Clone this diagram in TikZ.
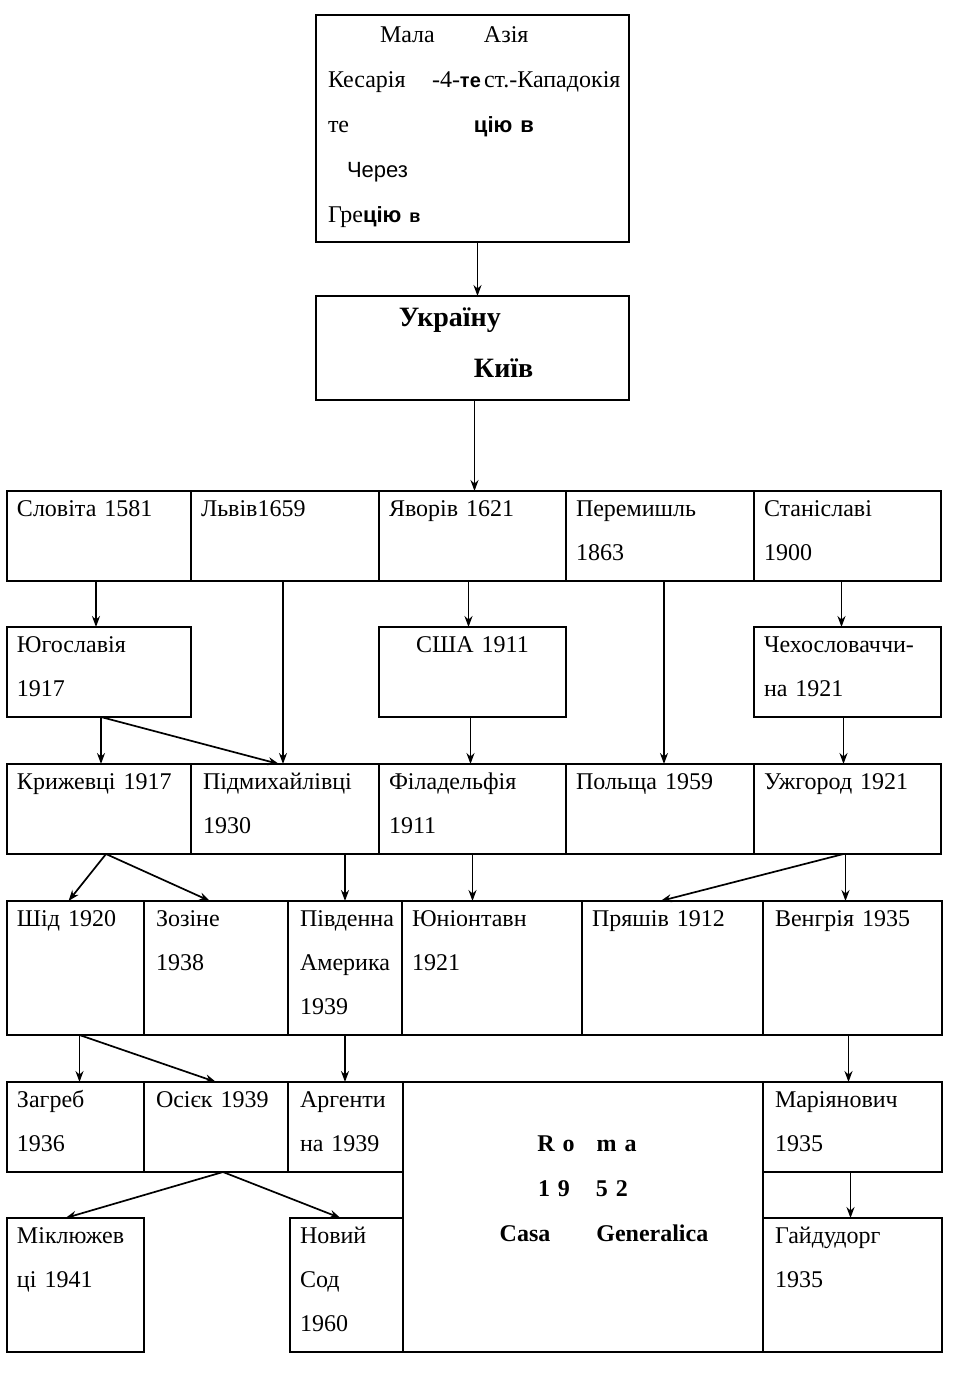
\documentclass[tikz,border=0pt]{standalone}
\usepackage{fontspec}
\setmainfont{Liberation Serif}
\setsansfont{Liberation Sans}
\usetikzlibrary{arrows.meta}
\tikzset{
	cell/.style={draw, line width=1.2pt, anchor=north west, inner xsep=5pt, inner ysep=0pt, outer sep=0pt, align=left, text height=12.5pt, text depth=32.5pt, font=\fontsize{12}{22}\selectfont},
	tall/.style={text depth=54.5pt},
	arr/.style={-{Stealth[length=5.5pt, width=4pt]}, line width=0.85pt},
}

\begin{document}
\begin{tikzpicture}[x=0.5pt, y=-0.5pt]
		%%%%% START %%%%%
		\useasboundingbox (0, 0) rectangle (976, 1373);
		
		\node[cell, inner xsep=6pt, text width=144.5pt, text height=13.5pt, text depth=100pt, font=\fontsize{12}{22.5}\selectfont] (asia) at (316, 15) {\hspace*{26pt}\makebox[52pt][l]{Мала}Азія\\ \mbox{\makebox[52pt][l]{Кесарія}\makebox[26pt][l]{-4-{\sffamily\bfseries\fontsize{10}{10}\selectfont те}}ст.-Кападокія}\\ \makebox[73pt][l]{те}{\sffamily\bfseries\fontsize{11}{11}\selectfont цію в}\\ \hspace*{9.5pt}{\sffamily\fontsize{11}{11}\selectfont Через}\\ Гре{\sffamily\bfseries\fontsize{11}{11}\selectfont цію} {\sffamily\bfseries\fontsize{9}{9}\selectfont в}};
		\node[cell, inner xsep=6pt, text width=144.5pt, text height=15pt, text depth=37pt, font=\fontsize{14}{25.5}\selectfont\bfseries] (ukraine) at (316, 296) {\hspace*{35.5pt}Україну\\ \hspace*{73pt}Київ};
		
		% row 1
		\node[cell, text width=82pt] (slovita) at (7, 491) {Словіта 1581};
		\node[cell, text width=84pt] (lviv) at (191, 491) {Львів1659};
		\node[cell, text width=83.5pt] (yavoriv) at (379, 491) {Яворів 1621};
		\node[cell, text width=84pt] (peremyshl) at (566, 491) {Перемишль\\ 1863};
		\node[cell, text width=83.5pt] (stanyslav) at (754, 491) {Станіславі\\ 1900};
		
		% row 2
		\node[cell, text width=82pt] (yugo) at (7, 627) {Югославія\\ 1917};
		\node[cell, text width=83.5pt, align=center] (usa) at (379, 627) {США 1911};
		\node[cell, text width=83.5pt] (czecho) at (754, 627) {Чехословаччи-\\ на 1921};
		
		% row 3
		\node[cell, text width=82pt] (kryzh) at (7, 764) {Крижевці 1917};
		\node[cell, text width=82pt, inner xsep=6pt] (pidmykh) at (191, 764) {Підмихайлівці\\ 1930};
		\node[cell, text width=83.5pt] (fila) at (379, 764) {Філадельфія\\ 1911};
		\node[cell, text width=84pt] (polsh) at (566, 764) {Польща 1959};
		\node[cell, text width=83.5pt] (uzh) at (754, 764) {Ужгород 1921};
		
		% row 4
		\node[cell, tall, text width=58.5pt] (shid) at (7, 901) {Шід 1920};
		\node[cell, tall, inner xsep=6pt, text width=60pt] (zozine) at (144, 901) {Зозіне\\ 1938};
		\node[cell, tall, inner xsep=6pt, text width=45pt] (pivd) at (288, 901) {Південна\\ Америка\\ 1939};
		\node[cell, tall, text width=80pt] (yunion) at (402, 901) {Юніонтавн\\ 1921};
		\node[cell, tall, text width=80.5pt] (pryash) at (582, 901) {Пряшів 1912};
		\node[cell, tall, inner xsep=6pt, text width=77.5pt] (venh) at (763, 901) {Венгрія 1935};
		
		% row 5
		\node[cell, text width=58.5pt] (zagreb) at (7, 1082) {Загреб\\ 1936};
		\node[cell, inner xsep=6pt, text width=60pt] (osiek) at (144, 1082) {Осієк 1939};
		\node[cell, inner xsep=6pt, text width=45.5pt] (argent) at (288, 1082) {Аргенти\\ на 1939};
		\node[cell, inner xsep=6pt, text width=77.5pt] (mariyan) at (763, 1082) {Маріянович\\ 1935};
		
		% row 6
		\node[cell, tall, text width=58.5pt] (miklyuzh) at (7, 1218) {Міклюжев\\ ці 1941};
		\node[cell, tall, text width=46.5pt] (novsod) at (290, 1218) {Новий\\ Сод\\ 1960};
		\node[cell, tall, inner xsep=6pt, text width=77.5pt] (haidud) at (763, 1218) {Гайдудорг\\ 1935};
		\node[cell, inner xsep=0pt, text width=180pt, text height=34.5pt, text depth=100.5pt, align=center, font=\fontsize{12}{22.5}\selectfont\bfseries] (roma) at (403, 1082) {\hspace*{4pt}R o\hspace{11pt}m a\\ 1 9\hspace{13pt}5 2\\ \hspace*{21pt}Casa\hspace{23pt}Generalica};
		
		% arrows
		\draw[arr] ([xshift=2.5pt]asia.south) -- ([xshift=2.5pt]ukraine.north);
		\draw[arr] ([xshift=1pt]ukraine.south) -- ([xshift=1pt]ukraine.south |- yavoriv.north);
		\draw[arr] ([xshift=-1.5pt]slovita.south) -- ([xshift=-1.5pt]yugo.north);
		\draw[arr] ([xshift=-1pt]lviv.south) -- ([xshift=-1pt]lviv.south |- pidmykh.north);
		\draw[arr] ([xshift=-2pt]yavoriv.south) -- ([xshift=-2pt]usa.north);
		\draw[arr] ([xshift=2pt]peremyshl.south) -- ([xshift=2pt]polsh.north);
		\draw[arr] ([xshift=-3pt]stanyslav.south) -- ([xshift=-3pt]czecho.north);
		
		\draw[arr] ([xshift=1pt]yugo.south) -- ([xshift=1pt]kryzh.north);
		\draw[arr] ([xshift=1pt]yugo.south) -- ([xshift=-3pt]pidmykh.north);
		\draw[arr] ([xshift=-1pt]usa.south) -- ([xshift=-1pt]fila.north);
		\draw[arr] ([xshift=-2pt]czecho.south) -- ([xshift=-2pt]uzh.north);
		
		\draw[arr] ([xshift=3.5pt]kryzh.south) -- ([xshift=-3.5pt]shid.north);
		\draw[arr] ([xshift=3.5pt]kryzh.south) -- ([xshift=-3pt]zozine.north);
		\draw[arr] (pivd.north |- pidmykh.south) -- (pivd.north);
		\draw[arr] (fila.south) -- (fila.south |- yunion.north);
		\draw[arr] ([xshift=-2pt]uzh.south) -- ([xshift=-6pt]pryash.north);
		\draw[arr] ([xshift=-1pt]uzh.south) -- ([xshift=-1pt]uzh.south |- venh.north);
		
		\draw[arr] ([xshift=2pt]shid.south) -- ([xshift=2pt]zagreb.north);
		\draw[arr] ([xshift=2pt]shid.south) -- (osiek.north);
		\draw[arr] (pivd.south) -- (pivd.south |- argent.north);
		\draw[arr] ([xshift=-2pt]venh.south) -- ([xshift=-2pt]mariyan.north);
		
		\draw[arr] ([xshift=3.5pt]osiek.south) -- ([xshift=-5pt]miklyuzh.north);
		\draw[arr] ([xshift=3.5pt]osiek.south) -- ([xshift=-3pt]novsod.north);
		\draw[arr] ([xshift=-1pt]mariyan.south) -- ([xshift=-1pt]haidud.north);
		
		%%%%% END %%%%%
	\end{tikzpicture}
\end{document}
